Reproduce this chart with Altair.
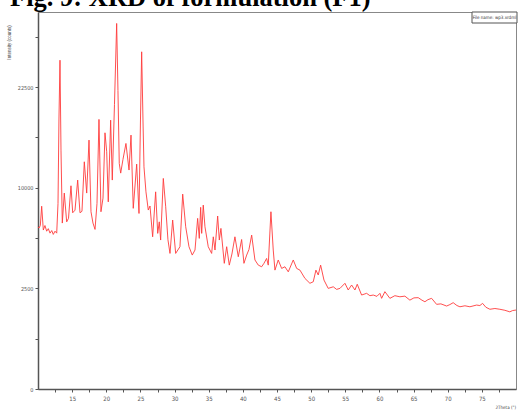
import altair as alt
import pandas as pd

# Diffractogram of formulation F1: 2-theta (degrees) vs intensity (counts)
two_theta = [
    10.00, 10.15, 10.34, 10.54, 10.78, 11.02, 11.27, 11.51, 11.76, 12.01,
    12.24, 12.49, 12.74, 12.93, 13.07, 13.22, 13.37, 13.56, 13.85, 14.20,
    14.47, 14.83, 15.08, 15.42, 15.81, 16.15, 16.44, 16.78, 17.13, 17.47,
    17.76, 18.05, 18.35, 18.64, 18.93, 19.22, 19.52, 19.81, 20.06, 20.29,
    20.64, 20.88, 21.20, 21.52, 21.71, 21.90, 22.11, 22.44, 22.88, 23.33,
    23.62, 23.95, 24.45, 24.79, 25.01, 25.18, 25.37, 25.52, 25.81, 26.15,
    26.40, 26.79, 27.23, 27.53, 27.76, 27.96, 28.35, 28.70, 29.03, 29.33,
    29.72, 30.16, 30.79, 31.19, 31.63, 32.11, 32.59, 32.99, 33.38, 33.62,
    33.82, 33.97, 34.20, 34.45, 34.93, 35.43, 35.67, 35.92, 36.31, 36.55,
    36.79, 37.28, 37.63, 38.01, 38.40, 38.84, 39.33, 39.82, 40.16, 40.56,
    40.89, 41.29, 41.77, 42.26, 42.75, 43.09, 43.48, 43.72, 44.11, 44.45,
    44.70, 45.18, 45.68, 46.16, 46.65, 47.38, 47.88, 48.36, 49.09, 49.82,
    50.31, 50.70, 51.04, 51.39, 51.88, 52.50, 53.24, 53.73, 54.22, 54.95,
    55.43, 55.93, 56.41, 56.75, 57.39, 58.12, 58.61, 59.09, 59.63, 60.07,
    60.32, 60.80, 61.53, 62.26, 63.00, 63.73, 64.46, 65.05, 65.68, 66.22,
    66.66, 67.10, 67.64, 68.37, 69.00, 69.84, 70.32, 70.80, 71.35, 71.79,
    72.52, 73.25, 74.23, 74.71, 75.11, 75.59, 76.18, 76.91, 77.64, 78.37,
    79.10, 79.50, 80.00,
]
intensity = [
    6480, 6400, 6600, 8250, 6240, 6600, 6150, 6350, 6000, 6200,
    5900, 6150, 6000, 8500, 18000, 26700, 14000, 6800, 9480, 6900,
    7200, 10200, 7670, 7900, 10780, 7670, 7800, 12750, 9480, 15300,
    7760, 6800, 6290, 8500, 17950, 7760, 9000, 16210, 13900, 8650,
    17850, 10780, 20000, 33000, 22000, 12570, 11510, 13000, 14890, 11840,
    15920, 8060, 12490, 7610, 18000, 28080, 18000, 12190, 9600, 7910,
    8270, 5720, 9600, 5980, 6900, 5480, 10950, 8200, 5500, 4540,
    7050, 4540, 5000, 9380, 6500, 5000, 4430, 4770, 7190, 5600,
    8150, 5980, 8350, 6500, 5000, 4540, 5720, 4770, 7390, 5480,
    6370, 3900, 5000, 3790, 4500, 5720, 4320, 5520, 3900, 4430,
    4800, 5850, 4110, 3790, 3690, 3900, 4210, 3790, 7760, 4770,
    3490, 4110, 3590, 3690, 3390, 4110, 3590, 3490, 3020, 2760,
    2840, 3490, 3210, 3790, 2930, 2500, 2580, 2450, 2500, 2760,
    2420, 2670, 2420, 2710, 2180, 2260, 2150, 2180, 2120, 2260,
    2030, 2340, 2030, 2150, 2100, 2130, 1950, 2050, 2060, 1950,
    1880, 1970, 2030, 1770, 1790, 1700, 1760, 1840, 1720, 1670,
    1710, 1670, 1740, 1720, 1810, 1650, 1570, 1600, 1570, 1530,
    1470, 1520, 1540,
]

x_ticks = [12.5, 15, 17.5, 20, 22.5, 25, 27.5, 30, 32.5, 35, 37.5, 40, 42.5, 45,
           47.5, 50, 52.5, 55, 57.5, 60, 62.5, 65, 67.5, 70, 72.5, 75, 77.5]
y_ticks = [0, 625, 2500, 5625, 10000, 15625, 22500, 30625]

figure_title = "Fig. 9: XRD of formulation (F1)"
file_label = "File name: wp3.xrdml"

df = pd.DataFrame({"two_theta": two_theta, "intensity": intensity})
one = pd.DataFrame({"k": [0]})

label_font = "Liberation Sans Narrow, DejaVu Sans Condensed, Liberation Sans"

pattern = alt.Chart(df).mark_line(color="#ff3b3b", strokeWidth=0.9).encode(
    x=alt.X(
        "two_theta:Q",
        scale=alt.Scale(domain=[10, 80], nice=False, zero=False),
        axis=alt.Axis(
            values=x_ticks,
            labelExpr="datum.value % 5 == 0 ? datum.label : ''",
            title="2Theta (°)",
            titleFontSize=4.5,
            titleFontWeight="normal",
            titleFont=label_font,
            titleColor="#444",
            titleAnchor="end",
            titleX=457,
            titleY=18,
            titleAlign="left",
            titleBaseline="middle",
            grid=False,
            tickSize=3,
            tickColor="#555",
            domainColor="#555",
            domainWidth=1.5,
            labelFontSize=6,
            labelFont=label_font,
            labelColor="#555",
            labelPadding=3,
        ),
    ),
    y=alt.Y(
        "intensity:Q",
        scale=alt.Scale(type="sqrt", domain=[0, 35100], nice=False),
        axis=alt.Axis(
            values=y_ticks,
            format="d",
            labelExpr="indexof([0, 2500, 10000, 22500], datum.value) >= 0 ? datum.label : ''",
            title="Intensity (counts)",
            titleFontSize=4.5,
            titleFontWeight="normal",
            titleColor="#444",
            titleAngle=-90,
            titleX=-27,
            titleY=30,
            titleAlign="center",
            grid=False,
            tickSize=3,
            tickColor="#555",
            domainColor="#555",
            domainWidth=1.5,
            labelFontSize=5.5,
            labelFont=label_font,
            labelColor="#555",
            labelPadding=2,
        ),
    ),
)

heading = alt.Chart(one).mark_text(
    text=figure_title,
    font="Liberation Serif",
    fontWeight="bold",
    fontSize=26.5,
    align="left",
    baseline="alphabetic",
    color="#000",
).encode(x=alt.value(-28), y=alt.value(-6))

file_box = alt.Chart(one).mark_rect(
    fill="white", stroke="#555", strokeWidth=1
).encode(x=alt.value(434), x2=alt.value(479), y=alt.value(0), y2=alt.value(11))

file_text = alt.Chart(one).mark_text(
    text=file_label,
    fontSize=4.5,
    font=label_font,
    align="center",
    baseline="middle",
    color="#333",
).encode(x=alt.value(456.5), y=alt.value(5.5))

chart = (
    alt.layer(pattern, file_box, file_text, heading)
    .properties(
        width=478,
        height=377,
        autosize=alt.AutoSizeParams(type="none"),
        padding={"left": 38, "top": 12, "right": 3, "bottom": 22},
        background="white",
    )
    .configure_view(stroke="#888", strokeWidth=1)
)

chart.save("out.html", embed_options={"renderer": "svg", "actions": False})
